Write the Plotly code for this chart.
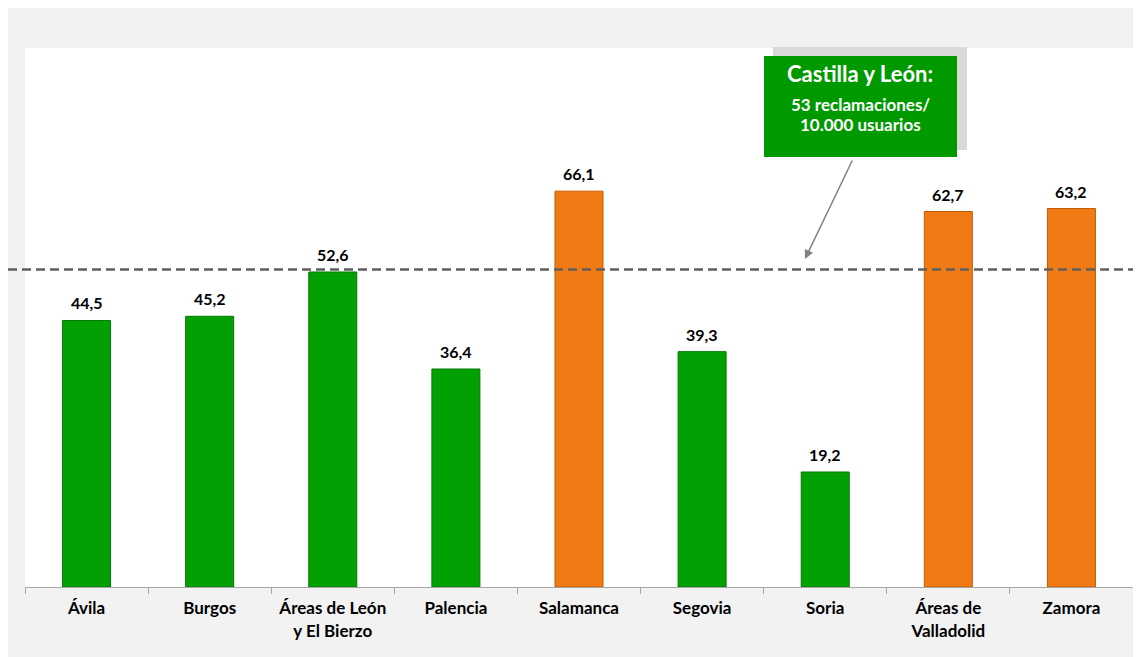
import plotly.graph_objects as go

categories = ["Ávila", "Burgos", "Áreas de León<br>y El Bierzo", "Palencia", "Salamanca",
              "Segovia", "Soria", "Áreas de<br>Valladolid", "Zamora"]
values = [44.5, 45.2, 52.6, 36.4, 66.1, 39.3, 19.2, 62.7, 63.2]
above_avg = [False, False, False, False, True, False, False, True, True]
regional_avg = 53
box_title = "Castilla y León:"
box_lines = ["53 reclamaciones/", "10.000 usuarios"]

GREEN = "#03a003"
GREEN_D = "#027a02"
ORANGE = "#f27a14"
ORANGE_D = "#c25c08"

colors = [ORANGE if a else GREEN for a in above_avg]
lines = [ORANGE_D if a else GREEN_D for a in above_avg]
labels = [f"{v:.1f}".replace(".", ",") for v in values]

FONT = "Lato"
OFF = 8  # page body margin

W, H = 1141, 657
L, T = 25 - OFF, 48 - OFF
R = W - (1133 - OFF)
B = H - (587 - OFF)
pw, ph = W - L - R, H - T - B

def px_x(x):
    return (x - OFF - L) / pw

def px_y(y):
    return (H - B - (y - OFF)) / ph

fig = go.Figure()
fig.add_trace(go.Bar(
    x=categories, y=values, width=0.39,
    marker=dict(color=colors, line=dict(color=lines, width=1)),
    hoverinfo="skip",
))

shapes = [
    dict(type="line", xref="paper", yref="y", x0=px_x(OFF), x1=px_x(W + 20), y0=regional_avg, y1=regional_avg,
         line=dict(color="#5f5f5f", width=2.5, dash="9px,5px"), layer="above"),
    dict(type="rect", xref="paper", yref="paper", x0=px_x(773), x1=px_x(967), y0=px_y(150), y1=px_y(47),
         fillcolor="#d9d9d9", line_width=0, layer="above"),
    dict(type="rect", xref="paper", yref="paper", x0=px_x(764), x1=px_x(957), y0=px_y(157), y1=px_y(56),
         fillcolor="#009900", line_width=0, layer="above"),
]

annotations = [
    dict(x=c, y=v, xref="x", yref="y", text=f"<b>{t}</b>", showarrow=False,
         xanchor="center", yanchor="bottom", yshift=6,
         font=dict(family=FONT, size=16, color="black"))
    for c, v, t in zip(categories, values, labels)
]
annotations += [
    dict(xref="paper", yref="paper", x=px_x(860), y=px_y(74), text=f"<b>{box_title}</b>",
         showarrow=False, font=dict(family=FONT, size=22, color="white"),
         xanchor="center", yanchor="middle"),
    dict(xref="paper", yref="paper", x=px_x(860), y=px_y(104), text=f"<b>{box_lines[0]}</b>",
         showarrow=False, font=dict(family=FONT, size=17, color="white"),
         xanchor="center", yanchor="middle"),
    dict(xref="paper", yref="paper", x=px_x(860), y=px_y(124), text=f"<b>{box_lines[1]}</b>",
         showarrow=False, font=dict(family=FONT, size=17, color="white"),
         xanchor="center", yanchor="middle"),
    dict(xref="paper", yref="paper", x=px_x(805), y=px_y(259), text="", showarrow=True,
         ax=48, ay=-100, arrowhead=2, arrowsize=1.2, arrowwidth=1.5, arrowcolor="#808080",
         standoff=0, startstandoff=0),
]

fig.update_layout(
    width=W, height=H,
    margin=dict(l=L, r=R, t=T, b=B),
    paper_bgcolor="#f2f2f2", plot_bgcolor="white",
    showlegend=False,
    shapes=shapes, annotations=annotations,
    xaxis=dict(
        type="category", tickson="boundaries", ticks="outside", ticklen=6, tickcolor="#a6a6a6",
        showline=True, linecolor="#a6a6a6", linewidth=1, showgrid=False,
        tickfont=dict(family=FONT, size=17, color="black", weight="bold"),
        ticklabelstandoff=6,
        range=[-0.5, 8.5], fixedrange=True,
    ),
    yaxis=dict(range=[0, 90], visible=False, showgrid=False, fixedrange=True),
)

fig.write_html("out.html")
